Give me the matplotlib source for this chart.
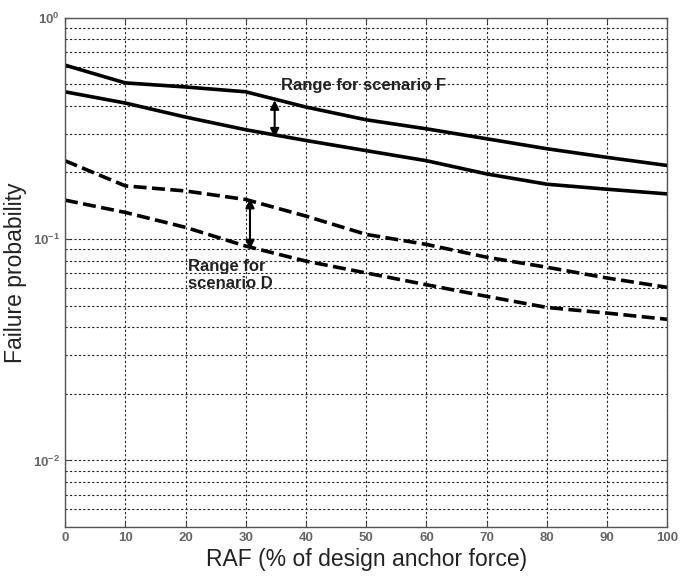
import numpy as np
import matplotlib.pyplot as plt
from matplotlib.ticker import LogLocator, NullFormatter

plt.rcParams['font.family'] = ['Liberation Sans', 'DejaVu Sans']
plt.rcParams['mathtext.default'] = 'regular'

# Data
raf = [0, 10, 20, 30, 40, 50, 60, 70, 80, 90, 100]
f_upper = [0.611, 0.508, 0.487, 0.463, 0.395, 0.346, 0.315, 0.284, 0.256, 0.234, 0.215]
f_lower = [0.463, 0.412, 0.356, 0.312, 0.279, 0.251, 0.226, 0.197, 0.177, 0.168, 0.160]
d_upper = [0.226, 0.174, 0.165, 0.151, 0.127, 0.105, 0.0946, 0.0828, 0.0746, 0.0667, 0.0605]
d_lower = [0.150, 0.132, 0.113, 0.093, 0.0795, 0.0703, 0.0622, 0.0551, 0.0491, 0.0463, 0.0434]

# annotation anchors
arrow_f = (34.8, 0.424, 0.288)
arrow_d = (30.7, 0.152, 0.090)
label_f = "Range for scenario F"
label_d = "Range for\nscenario D"

fig = plt.figure(figsize=(6.8, 5.78), dpi=100)
ax = fig.add_axes([0.0956, 0.0882, 0.886, 0.881])

ax.plot(raf, f_upper, color='black', lw=2.6, solid_capstyle='butt')
ax.plot(raf, f_lower, color='black', lw=2.6, solid_capstyle='butt')
ax.plot(raf, d_upper, color='black', lw=2.6, dashes=(3.6, 1.5))
ax.plot(raf, d_lower, color='black', lw=2.6, dashes=(3.6, 1.5))

ax.set_yscale('log')
ax.set_xlim(0, 100)
ax.set_ylim(0.005, 1)
ax.set_xticks(np.arange(0, 101, 10))
ax.yaxis.set_major_locator(LogLocator(base=10))
ax.yaxis.set_minor_locator(LogLocator(base=10, subs=np.arange(2, 10)))
ax.yaxis.set_minor_formatter(NullFormatter())

ax.grid(True, which='major', color='#222222', linestyle=(0, (2, 2)), lw=0.8)
ax.grid(True, which='minor', axis='y', color='#222222', linestyle=(0, (2, 2)), lw=0.8)
ax.tick_params(which='both', direction='in', top=True, right=True,
               labelsize=9.5, labelcolor='#666666', color='#444444')
ax.tick_params(which='minor', length=0)
for lab in ax.get_xticklabels() + ax.get_yticklabels():
    lab.set_fontweight('bold')
for s in ax.spines.values():
    s.set_color('#555555')
    s.set_linewidth(1.0)

ax.set_xlabel("RAF (% of design anchor force)", fontsize=16.5, color='#222222', labelpad=3)
ax.set_ylabel("Failure probability", fontsize=16.5, color='#222222')
ax.yaxis.set_label_coords(-0.063, 0.5)

ax.annotate('', xy=(arrow_f[0], arrow_f[2]), xytext=(arrow_f[0], arrow_f[1]),
            arrowprops=dict(arrowstyle='<|-|>', color='black', lw=1.5,
                            mutation_scale=13, shrinkA=0, shrinkB=0))
ax.annotate('', xy=(arrow_d[0], arrow_d[2]), xytext=(arrow_d[0], arrow_d[1]),
            arrowprops=dict(arrowstyle='<|-|>', color='black', lw=1.5,
                            mutation_scale=13, shrinkA=0, shrinkB=0))
ax.text(35.8, 0.496, label_f, fontsize=12, fontweight='bold', color='#222222',
        va='center', ha='left')
ax.text(20.4, 0.0686, label_d, fontsize=12, fontweight='bold', color='#222222',
        va='center', ha='left', linespacing=1.15)

fig.savefig("out.png", dpi=100)
